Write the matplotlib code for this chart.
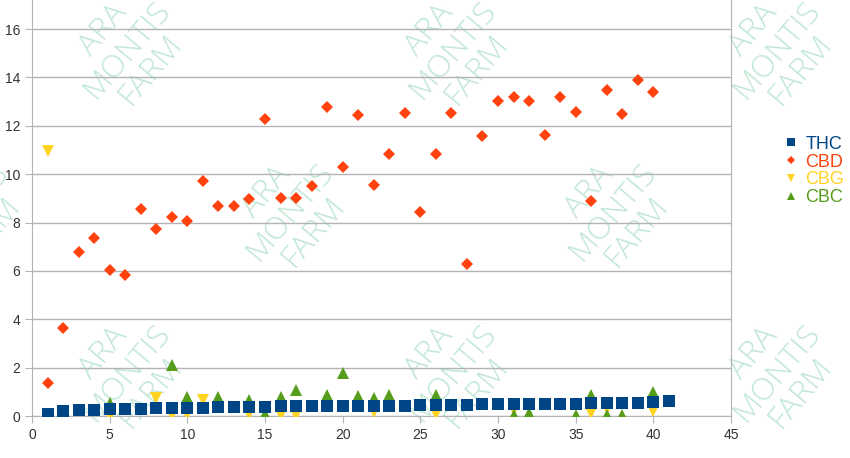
import matplotlib
matplotlib.use('Agg')
import matplotlib.pyplot as plt

plt.rcParams['font.family'] = ['Liberation Sans', 'DejaVu Sans']

# THC measured for samples 1..41
thc_x = list(range(1, 42))
thc_y = [0.10, 0.20, 0.25, 0.25, 0.27, 0.30, 0.30, 0.32, 0.33, 0.35,
         0.35, 0.37, 0.37, 0.37, 0.38, 0.40, 0.40, 0.40, 0.40, 0.40,
         0.42, 0.42, 0.43, 0.43, 0.45, 0.45, 0.47, 0.47, 0.48, 0.48,
         0.50, 0.50, 0.50, 0.50, 0.50, 0.52, 0.53, 0.55, 0.55, 0.58,
         0.62]

cbd_x = list(range(1, 41))
cbd_y = [1.35, 3.64, 6.78, 7.36, 6.03, 5.83, 8.55, 7.73, 8.22, 8.06,
         9.71, 8.68, 8.68, 8.97, 12.27, 9.00, 9.00, 9.50, 12.77, 10.29,
         12.44, 9.55, 10.83, 12.52, 8.43, 10.83, 12.52, 6.28, 11.57, 13.02,
         13.18, 13.02, 11.61, 13.18, 12.56, 8.88, 13.47, 12.48, 13.88, 13.39]

cbg_x = [1, 5, 8, 9, 10, 11, 14, 16, 17, 22, 26, 31, 36, 37, 40]
cbg_y = [10.95, 0.02, 0.73, 0.03, 0.10, 0.66, 0.10, 0.05, 0.05, 0.15,
         0.10, 0.25, 0.12, 0.30, 0.20]

cbc_x = [5, 9, 10, 12, 14, 15, 16, 17, 19, 20, 21, 22, 23, 26,
         31, 32, 35, 36, 37, 38, 40]
cbc_y = [0.52, 2.10, 0.77, 0.80, 0.66, 0.10, 0.80, 1.07, 0.87, 1.78,
         0.83, 0.74, 0.87, 0.87, 0.04, 0.12, 0.05, 0.87, 0.05, 0.05, 1.00]

colors = {'THC': '#004586', 'CBD': '#ff420e', 'CBG': '#ffd320', 'CBC': '#579d1c'}

fig = plt.figure(figsize=(8.5, 4.58), dpi=100)
ax = fig.add_axes([32 / 850, 42 / 458, (731 - 32) / 850, 416 / 458])

# watermark grid (pixel centres, from bottom-left), kept behind the axes
wm_spots = [(127, 408), (453, 408), (777, 408),
            (-35, 246), (290, 246), (613, 246),
            (127, 85), (453, 85), (777, 85)]
for px, py in wm_spots:
    fig.text(px / 850, py / 458, 'ARA\nMONTIS\nFARM', ha='center', va='center',
             multialignment='center', rotation=50, fontsize=23, color='#c2e7d5',
             linespacing=0.95, zorder=-1, family=['Open Sans', 'DejaVu Sans'],
             fontweight=300)

ax.plot(cbg_x, cbg_y, 'v', color=colors['CBG'], ms=8, mew=0, label='CBG', zorder=3)
ax.plot(cbc_x, cbc_y, '^', color=colors['CBC'], ms=8, mew=0, label='CBC', zorder=3)
ax.plot(thc_x, thc_y, 's', color=colors['THC'], ms=8.5, mew=0, label='THC', zorder=4)
ax.plot(cbd_x, cbd_y, 'D', color=colors['CBD'], ms=6.5, mew=0, label='CBD', zorder=4)

ax.set_xlim(0, 45)
ax.set_ylim(0, 17.2)
ax.set_xticks(range(0, 46, 5))
ax.set_yticks(range(0, 17, 2))
ax.grid(axis='y', color='#b3b3b3', linewidth=1)
ax.set_axisbelow(True)
ax.patch.set_alpha(0)
for side in ['left', 'bottom', 'right']:
    ax.spines[side].set_color('#b3b3b3')
ax.spines['top'].set_visible(False)
ax.tick_params(colors='#b3b3b3', labelcolor='#333333', labelsize=10, length=5)

handles, labels = ax.get_legend_handles_labels()
order = [2, 3, 0, 1]
leg = fig.legend([handles[i] for i in order], [labels[i] for i in order],
                 loc='center left', bbox_to_anchor=(771 / 850, 1 - 171 / 458),
                 frameon=False, fontsize=13, labelcolor='markerfacecolor',
                 markerscale=0.7, handletextpad=0.2, labelspacing=0.05,
                 handlelength=1.2, borderpad=0)

fig.savefig('out.png', dpi=100)
